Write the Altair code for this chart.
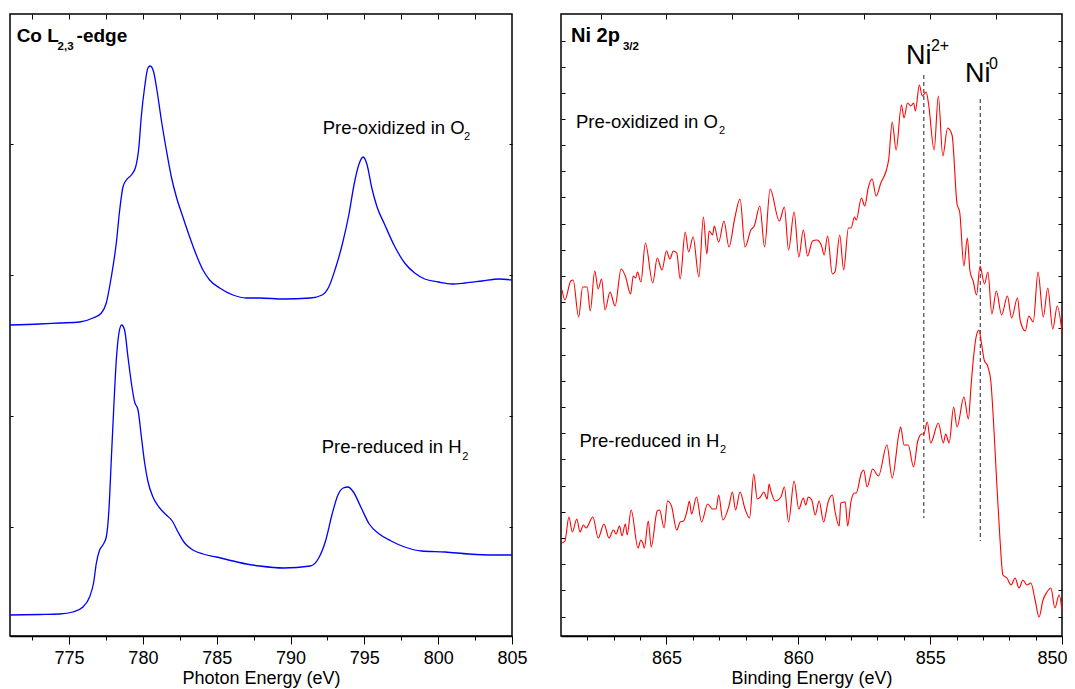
import altair as alt
import pandas as pd

FONT = "Liberation Sans"

# ---------------- Co L2,3-edge (left panel) ----------------
co_energy_ox = [771, 773, 774.36, 775.72, 776.62, 777.19, 777.52, 777.86, 778.20, 778.43,
                778.65, 778.88, 779.22, 779.51, 779.73, 779.89, 780.12, 780.34, 780.50, 780.73,
                780.95, 781.25, 781.59, 781.93, 782.27, 782.71, 783.17, 783.62, 784.07, 784.52,
                785.20, 786.10, 787.01, 787.91, 789.52, 791.34, 792.14, 792.59, 793.05, 793.51,
                793.96, 794.31, 794.64, 794.92, 795.17, 795.49, 795.86, 796.36, 797.04, 797.73,
                798.41, 799.09, 800.01, 800.92, 801.83, 802.97, 804.12, 805.0]
co_int_ox = [311, 312, 313, 314, 318, 323, 333, 359, 393, 426,
             449, 456, 461, 469, 489, 519, 549, 568, 570, 564,
             546, 516, 486, 459, 439, 419, 399, 381, 366, 356,
             348, 341, 338, 338, 337, 338, 341, 349, 368, 392,
             422, 452, 472, 479, 472, 449, 429, 412, 390, 373,
             363, 357, 354, 352, 353, 355, 357, 356]

co_energy_red = [771, 773, 774.36, 775.26, 775.94, 776.39, 776.66, 776.85, 777.07, 777.29,
                 777.52, 777.70, 777.86, 778.02, 778.20, 778.38, 778.56, 778.76, 778.99, 779.22,
                 779.44, 779.67, 779.90, 780.12, 780.35, 780.68, 781.14, 781.59, 781.99, 782.38,
                 782.83, 783.39, 784.07, 784.98, 786.10, 787.01, 787.91, 789.52, 791.34, 791.91,
                 792.37, 792.82, 793.21, 793.57, 793.89, 794.26, 794.76, 795.33, 796.01, 796.81,
                 797.73, 798.87, 800.47, 802.07, 803.66, 805.0]
co_int_red = [21, 21.5, 22, 24, 29, 39, 53, 73, 86, 91,
              99, 126, 176, 226, 276, 303, 311, 306, 279, 253,
              234, 226, 199, 173, 154, 139, 128, 121, 115, 104,
              93, 86, 82, 79, 75, 72, 70, 68, 70, 78,
              95, 122, 141, 148, 149, 144, 129, 112, 102, 95,
              89, 85, 84, 82, 81, 81]

# ---------------- Ni 2p3/2 (right panel) ----------------
ni_be_ox = [868.96, 868.85, 868.63, 868.54, 868.33, 868.18, 868.01, 867.89, 867.72, 867.59,
            867.46, 867.33, 867.14, 866.95, 866.72, 866.56, 866.36, 866.26, 866.17, 866.10,
            865.97, 865.80, 865.52, 865.35, 865.17, 865.00, 864.87, 864.74, 864.61, 864.48,
            864.29, 864.16, 863.99, 863.77, 863.60, 863.47, 863.38, 863.25, 863.19, 863.02,
            862.82, 862.63, 862.41, 862.21, 862.02, 861.80, 861.67, 861.46, 861.28, 861.07,
            860.72, 860.53, 860.37, 860.16, 859.98, 859.81, 859.65, 859.46, 859.30, 859.13,
            859.02, 858.89, 858.71, 858.61, 858.43, 858.28, 858.10, 858.00, 857.87, 857.80,
            857.61, 857.48, 857.35, 857.20, 857.05, 856.87, 856.66, 856.57, 856.44, 856.29,
            856.09, 855.99, 855.86, 855.73, 855.63, 855.56, 855.41, 855.30, 855.15, 855.06,
            854.85, 854.69, 854.52, 854.34, 854.17, 853.98, 853.88, 853.72, 853.59, 853.49,
            853.37, 853.24, 853.11, 852.94, 852.81, 852.66, 852.49, 852.29, 852.07, 851.91,
            851.69, 851.58, 851.39, 851.26, 851.09, 850.91, 850.71, 850.54, 850.35, 850.18,
            850.00]
ni_int_ox = [346, 336, 355, 356, 319, 349, 349, 325, 365, 347,
             357, 326, 344, 330, 367, 360, 342, 360, 358, 364,
             354, 393, 353, 378, 366, 385, 377, 385, 383, 357,
             404, 384, 399, 359, 419, 382, 405, 401, 410, 394,
             415, 389, 418, 437, 389, 406, 410, 430, 389, 447,
             415, 429, 386, 424, 379, 406, 380, 395, 396, 391,
             381, 400, 362, 364, 401, 366, 408, 408, 419, 416,
             438, 430, 448, 457, 440, 453, 466, 477, 514, 486,
             531, 518, 533, 530, 533, 525, 551, 540, 544, 532,
             486, 540, 480, 508, 501, 432, 424, 370, 398, 365,
             355, 341, 370, 352, 364, 322, 345, 321, 340, 318,
             338, 315, 305, 320, 314, 364, 319, 348, 307, 330,
             304]

ni_be_red = [868.96, 868.85, 868.70, 868.57, 868.40, 868.28, 868.15, 868.05, 867.79, 867.59,
             867.37, 867.18, 867.01, 866.91, 866.78, 866.69, 866.56, 866.49, 866.34, 866.08,
             865.97, 865.90, 865.84, 865.69, 865.58, 865.35, 865.26, 865.09, 864.96, 864.81,
             864.61, 864.48, 864.35, 864.22, 864.13, 864.05, 863.86, 863.67, 863.44, 863.25,
             863.12, 863.02, 862.86, 862.63, 862.50, 862.38, 862.21, 862.02, 861.85, 861.69,
             861.56, 861.44, 861.31, 861.18, 861.11, 861.05, 860.88, 860.66, 860.53, 860.37,
             860.16, 859.98, 859.81, 859.72, 859.62, 859.49, 859.36, 859.21, 859.04, 858.87,
             858.71, 858.61, 858.45, 858.39, 858.22, 858.13, 858.00, 857.87, 857.80, 857.61,
             857.52, 857.39, 857.18, 856.96, 856.64, 856.44, 856.18, 856.12, 855.99, 855.83,
             855.63, 855.47, 855.32, 855.24, 855.11, 854.98, 854.69, 854.50, 854.41, 854.28,
             854.11, 853.98, 853.72, 853.55, 853.45, 853.35, 853.25, 853.15, 853.05, 852.95,
             852.82, 852.70, 852.58, 852.46, 852.35, 852.24, 852.09, 851.93, 851.78, 851.63,
             851.48, 851.33, 851.18, 851.02, 850.87, 850.72, 850.57, 850.42, 850.27, 850.11,
             850.00]
ni_int_red = [93, 95, 119, 104, 117, 104, 111, 108, 119, 98,
              112, 98, 106, 102, 110, 100, 112, 101, 126, 88,
              96, 93, 88, 115, 89, 125, 126, 108, 135, 130,
              106, 114, 115, 125, 135, 122, 139, 114, 132, 127,
              127, 141, 116, 130, 144, 126, 144, 127, 118, 162,
              137, 139, 144, 137, 152, 146, 135, 139, 149, 114,
              155, 127, 138, 131, 139, 136, 121, 135, 114, 134,
              141, 125, 110, 133, 134, 110, 135, 143, 143, 163,
              166, 149, 167, 160, 191, 158, 203, 209, 191, 191,
              169, 195, 202, 202, 214, 193, 213, 193, 202, 193,
              229, 209, 239, 217, 250, 280, 300, 306, 292, 276,
              270, 255, 206, 146, 96, 61, 58, 51, 58, 48,
              56, 51, 53, 36, 19, 36, 44, 48, 28, 41,
              26]

# reference lines (Ni2+, Ni0)
ni_ref_be = [855.24, 853.10]
ni_ref_top = [561, 537]
ni_ref_bottom = [118, 95]

# text annotations
left_label_text = ["Pre-oxidized in O", "Pre-reduced in H"]
left_label_x = [792.18, 792.11]
left_label_y = [508, 189]
left_sub_text = ["2", "2"]
left_sub_x = [801.75, 801.63]
left_sub_y = [499, 179]
left_title_text = ["Co L", "-edge"]
left_title_x = [771.45, 775.51]
left_title_y = [600, 600]
left_title_sub_text = ["2,3"]
left_title_sub_x = [774.22]
left_title_sub_y = [589]

right_label_text = ["Pre-oxidized in O", "Pre-reduced in H"]
right_label_x = [868.43, 868.30]
right_label_y = [514, 195]
right_sub_text = ["2", "2"]
right_sub_x = [863.01, 862.97]
right_sub_y = [505, 186]
right_title_text = ["Ni 2p"]
right_title_x = [868.62]
right_title_y = [600]
right_title_sub_text = ["3/2"]
right_title_sub_x = [866.65]
right_title_sub_y = [589.5]
ni_label_text = ["Ni", "Ni"]
ni_label_x = [855.92, 853.68]
ni_label_y = [580, 562.5]
ni_sup_text = ["2+", "0"]
ni_sup_x = [854.97, 852.77]
ni_sup_y = [590, 572.5]

# axis tick positions
left_major = [775, 780, 785, 790, 795, 800, 805]
left_minor = [772.5, 777.5, 782.5, 787.5, 792.5, 797.5, 802.5]
left_top = [772.5, 775, 777.5, 780, 782.5, 785, 787.5, 790, 792.5, 795, 797.5, 800, 802.5]
left_yticks = [109, 220, 361, 492]
right_major = [865, 860, 855, 850]
right_minor = [868, 867, 866, 864, 863, 862, 861, 859, 858, 857, 856, 854, 853, 852, 851]
right_top = [867.5, 865, 862.5, 860, 857.5, 855, 852.5]
right_yticks = [595, 569, 543, 517, 491, 465, 439, 412, 386, 360, 334, 308, 281, 255,
                229, 203, 177, 150, 124, 98, 72, 46, 19]


def inner_axis(orient, values, size):
    return alt.Axis(orient=orient, values=values, tickSize=size, offset=-size,
                    domain=False, labels=False, title=None, grid=False,
                    tickColor="black", tickWidth=1)


def minor_axis(values):
    return alt.Axis(orient="bottom", values=values, tickSize=4, domain=False,
                    labels=False, title=None, grid=False, tickColor="black", tickWidth=1)


def major_axis(values, title, flush=False):
    extra = {"labelFlush": True, "labelFlushOffset": 5} if flush else {"labelFlush": False}
    return alt.Axis(orient="bottom", values=values, tickSize=8, format="d",
                    labelFont=FONT, labelFontSize=18, labelColor="black", labelPadding=5,
                    title=title, titleFont=FONT, titleFontSize=18,
                    titleFontWeight="normal", titleColor="black", titlePadding=2,
                    domain=True, domainColor="black", domainWidth=1.5, grid=False,
                    tickColor="black", tickWidth=1, **extra)


def text_layer(texts, xs_, ys_, xscale, yscale, size, bold=False, xaxis=None, yaxis=None):
    df = pd.DataFrame({"x": xs_, "y": ys_, "t": texts})
    return alt.Chart(df).mark_text(
        align="left", baseline="middle", font=FONT, fontSize=size,
        fontWeight="bold" if bold else "normal", color="black"
    ).encode(
        x=alt.X("x:Q", scale=xscale, axis=xaxis),
        y=alt.Y("y:Q", scale=yscale, axis=yaxis),
        text="t:N",
    )


ys = alt.Scale(domain=[0, 622], nice=False, zero=False)

# ---- left panel ----
xs_l = alt.Scale(domain=[771, 805], nice=False, zero=False)
co_df = pd.concat([
    pd.DataFrame({"E": co_energy_ox, "I": co_int_ox, "s": "ox"}),
    pd.DataFrame({"E": co_energy_red, "I": co_int_red, "s": "red"}),
])
co_lines = alt.Chart(co_df).mark_line(color="#0000ff", strokeWidth=1.3, interpolate="monotone").encode(
    x=alt.X("E:Q", scale=xs_l, axis=major_axis(left_major, "Photon Energy (eV)")),
    y=alt.Y("I:Q", scale=ys, axis=None),
    detail="s:N",
)
left = alt.layer(
    co_lines,
    text_layer(left_label_text, left_label_x, left_label_y, xs_l, ys, 18.5,
               xaxis=minor_axis(left_minor), yaxis=inner_axis("left", left_yticks, 3)),
    text_layer(left_sub_text, left_sub_x, left_sub_y, xs_l, ys, 11,
               xaxis=inner_axis("top", left_top, 5), yaxis=inner_axis("right", left_yticks, 3)),
    text_layer(left_title_text, left_title_x, left_title_y, xs_l, ys, 19, bold=True),
    text_layer(left_title_sub_text, left_title_sub_x, left_title_sub_y, xs_l, ys, 11.5, bold=True),
).resolve_axis(x="independent", y="independent").properties(width=502, height=622)

# ---- right panel ----
xs_r = alt.Scale(domain=[850, 869], reverse=True, nice=False, zero=False)
ni_df = pd.concat([
    pd.DataFrame({"E": ni_be_ox, "I": ni_int_ox, "s": "ox"}),
    pd.DataFrame({"E": ni_be_red, "I": ni_int_red, "s": "red"}),
])
ni_lines = alt.Chart(ni_df).mark_line(color="#ff0000", strokeWidth=1.1, interpolate="monotone").encode(
    x=alt.X("E:Q", scale=xs_r, axis=major_axis(right_major, "Binding Energy (eV)", flush=True)),
    y=alt.Y("I:Q", scale=ys, axis=None),
    detail="s:N",
)
ref_df = pd.DataFrame({"be": ni_ref_be, "top": ni_ref_top, "bot": ni_ref_bottom})
ref_rules = alt.Chart(ref_df).mark_rule(color="#222222", strokeWidth=1, strokeDash=[4, 3]).encode(
    x=alt.X("be:Q", scale=xs_r, axis=None),
    y=alt.Y("top:Q", scale=ys, axis=None),
    y2="bot:Q",
)
right = alt.layer(
    ref_rules,
    ni_lines,
    text_layer(right_label_text, right_label_x, right_label_y, xs_r, ys, 18.5,
               xaxis=minor_axis(right_minor), yaxis=inner_axis("left", right_yticks, 4)),
    text_layer(right_sub_text, right_sub_x, right_sub_y, xs_r, ys, 11,
               xaxis=inner_axis("top", right_top, 5), yaxis=inner_axis("right", right_yticks, 4)),
    text_layer(right_title_text, right_title_x, right_title_y, xs_r, ys, 20, bold=True),
    text_layer(right_title_sub_text, right_title_sub_x, right_title_sub_y, xs_r, ys, 11.5, bold=True),
    text_layer(ni_label_text, ni_label_x, ni_label_y, xs_r, ys, 27),
    text_layer(ni_sup_text, ni_sup_x, ni_sup_y, xs_r, ys, 16),
).resolve_axis(x="independent", y="independent").properties(width=501, height=622)

# fixed-size canvas (1059 x 669) that crops the figure like the reference image
chart = alt.hconcat(left, right, spacing=49, bounds="flush").properties(
    autosize=alt.AutoSizeParams(type="none"),
    padding={"left": 2, "top": 6, "right": 1057, "bottom": 663},
).configure_view(stroke="black", strokeWidth=1.5)

chart.save("out.html", embed_options={"renderer": "svg", "actions": False})
